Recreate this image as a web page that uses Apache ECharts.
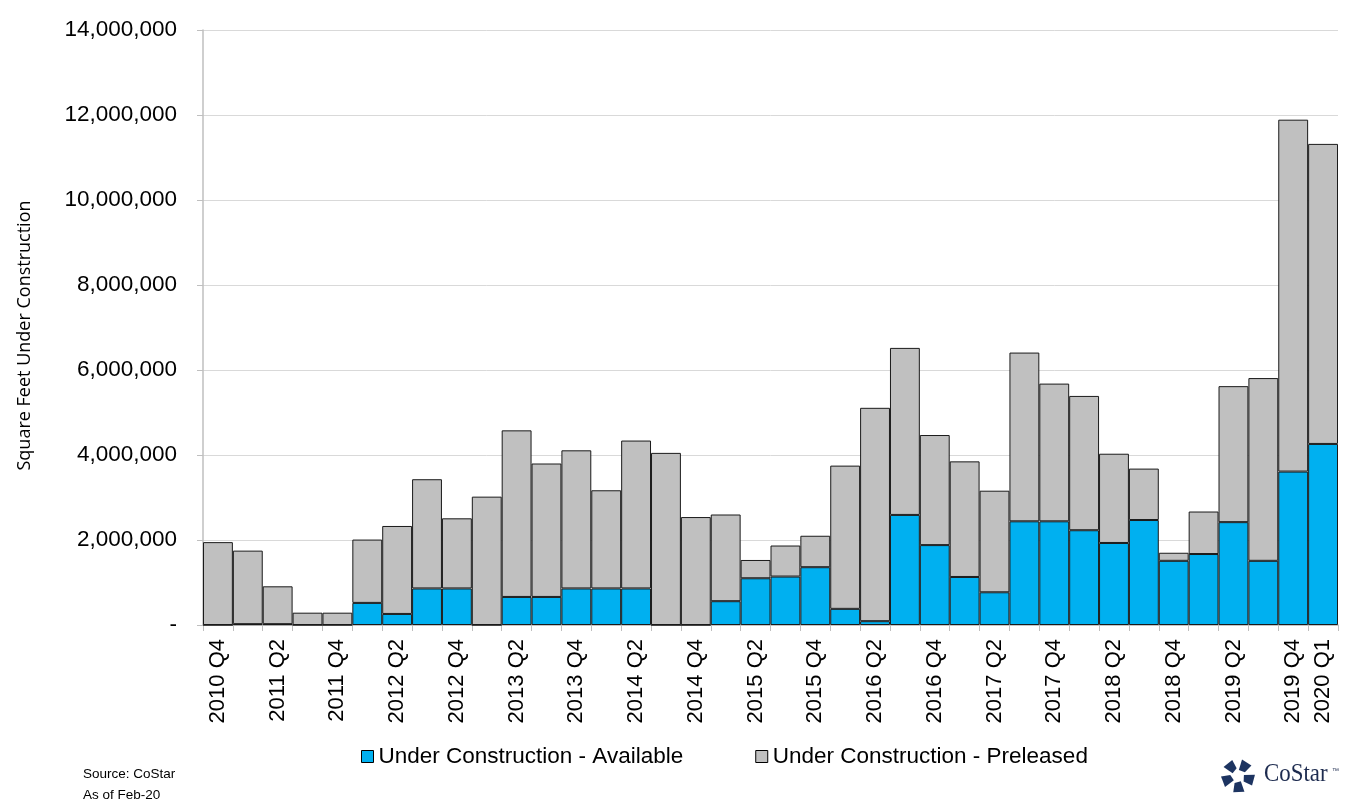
<!DOCTYPE html>
<html>
<head>
<meta charset="utf-8">
<script src="https://cdn.jsdelivr.net/npm/echarts@6/dist/echarts.min.js"></script>
<style>
html,body{margin:0;padding:0;background:#fff;}
#chart{width:1349px;height:808px;}
</style>
</head>
<body>
<div id="chart"></div>
<script>
const categories = [
  '2010 Q4',
  '2011 Q1','2011 Q2','2011 Q3','2011 Q4',
  '2012 Q1','2012 Q2','2012 Q3','2012 Q4',
  '2013 Q1','2013 Q2','2013 Q3','2013 Q4',
  '2014 Q1','2014 Q2','2014 Q3','2014 Q4',
  '2015 Q1','2015 Q2','2015 Q3','2015 Q4',
  '2016 Q1','2016 Q2','2016 Q3','2016 Q4',
  '2017 Q1','2017 Q2','2017 Q3','2017 Q4',
  '2018 Q1','2018 Q2','2018 Q3','2018 Q4',
  '2019 Q1','2019 Q2','2019 Q3','2019 Q4',
  '2020 Q1'
];
// Under Construction - Available (sq ft)
const available = [
  0,
  20000, 20000, 0, 0,
  520000, 260000, 860000, 860000,
  0, 660000, 660000, 860000,
  860000, 860000, 0, 0,
  560000, 1100000, 1140000, 1360000,
  380000, 90000, 2590000, 1880000,
  1130000, 770000, 2440000, 2440000,
  2230000, 1930000, 2470000, 1510000,
  1670000, 2420000, 1510000, 3610000,
  4260000
];
// Total under construction (sq ft)
const total = [
  1950000,
  1750000, 910000, 290000, 290000,
  2010000, 2330000, 3430000, 2510000,
  3020000, 4580000, 3800000, 4110000,
  3170000, 4340000, 4050000, 2540000,
  2600000, 1530000, 1870000, 2100000,
  3750000, 5110000, 6520000, 4470000,
  3850000, 3160000, 6410000, 5680000,
  5390000, 4030000, 3680000, 1700000,
  2670000, 5620000, 5810000, 11890000,
  11320000
];
// Under Construction - Preleased = total - available
const preleased = total.map((t, i) => t - available[i]);

const seriesNames = ['Under Construction - Available', 'Under Construction - Preleased'];
const yTicks = { min: 0, max: 14000000, interval: 2000000 };

const chart = echarts.init(document.getElementById('chart'));
const font = 'Liberation Sans, Arial, sans-serif';

// CoStar logo pieces (decoration)
function logoPieces(cx, cy) {
  const pieces = [];
  const rOut = 17, rIn = 6;
  for (let k = 0; k < 5; k++) {
    const a0 = (-90 + k * 72 + 8) * Math.PI / 180;
    const a1 = (-90 + k * 72 + 62) * Math.PI / 180;
    const am = (a0 + a1) / 2;
    pieces.push({
      type: 'polygon',
      shape: { points: [
        [cx + rIn * Math.cos(a0), cy + rIn * Math.sin(a0)],
        [cx + rOut * Math.cos(a0 + 0.1), cy + rOut * Math.sin(a0 + 0.1)],
        [cx + rOut * Math.cos(am + 0.3), cy + rOut * Math.sin(am + 0.3)],
        [cx + rIn * 1.3 * Math.cos(a1), cy + rIn * 1.3 * Math.sin(a1)]
      ]},
      style: { fill: '#1d3461' }
    });
  }
  return pieces;
}

chart.setOption({
  animation: false,
  backgroundColor: '#ffffff',
  grid: { left: 203, right: 11, top: 30, bottom: 183, containLabel: false },
  legend: {
    data: seriesNames,
    left: 356,
    top: 740,
    itemWidth: 12,
    itemHeight: 12,
    itemGap: 72,
    icon: 'rect',
    textStyle: { fontFamily: font, fontSize: 22.5, color: '#000' },
    itemStyle: { borderColor: '#000', borderWidth: 1 }
  },
  xAxis: {
    type: 'category',
    data: categories,
    boundaryGap: true,
    axisLine: { lineStyle: { color: '#bfbfbf', width: 1.5 } },
    axisTick: { show: true, interval: 0, length: 6, lineStyle: { color: '#bfbfbf' } },
    axisLabel: {
      interval: (i) => i % 2 === 0 || i === 37,
      rotate: 90,
      margin: 14,
      fontFamily: font,
      fontSize: 22,
      color: '#000'
    },
    splitLine: { show: false }
  },
  yAxis: {
    type: 'value',
    min: yTicks.min,
    max: yTicks.max,
    interval: yTicks.interval,
    name: 'Square Feet Under Construction',
    nameLocation: 'middle',
    nameGap: 169,
    nameTextStyle: { fontFamily: 'Open Sans, Noto Sans, sans-serif', fontSize: 18, color: '#000', padding: [0, 16, 0, 0] },
    axisLine: { show: true, lineStyle: { color: '#bfbfbf', width: 1.5 } },
    axisTick: { show: true, length: 6, lineStyle: { color: '#bfbfbf' } },
    axisLabel: {
      margin: 26,
      fontFamily: font,
      fontSize: 22.5,
      color: '#000',
      formatter: (v) => v === 0 ? '-' : v.toLocaleString('en-US')
    },
    splitLine: { show: true, lineStyle: { color: '#d9d9d9', width: 1 } }
  },
  series: [
    {
      name: seriesNames[0],
      type: 'bar',
      stack: 'uc',
      data: available,
      barCategoryGap: '0%',
      itemStyle: { color: '#00b0f0', borderColor: '#1a1a1a', borderWidth: 1 }
    },
    {
      name: seriesNames[1],
      type: 'bar',
      stack: 'uc',
      data: preleased,
      barCategoryGap: '0%',
      itemStyle: { color: '#c0c0c0', borderColor: '#1a1a1a', borderWidth: 1 }
    }
  ],
  graphic: [
    { type: 'text', left: 83, top: 767, style: { text: 'Source: CoStar', font: '13.5px ' + font, fill: '#000' } },
    { type: 'text', left: 83, top: 788, style: { text: 'As of Feb-20', font: '13.5px ' + font, fill: '#000' } },
    { type: 'group', children: logoPieces(1238, 776) },
    { type: 'text', left: 1264, top: 761, scaleX: 0.88, style: { text: 'CoStar', font: '26px Liberation Serif, DejaVu Serif, serif', fill: '#1d2b4f' } },
    { type: 'text', left: 1332, top: 768, style: { text: '™', font: '7px ' + font, fill: '#1d2b4f' } }
  ]
});
</script>
</body>
</html>
